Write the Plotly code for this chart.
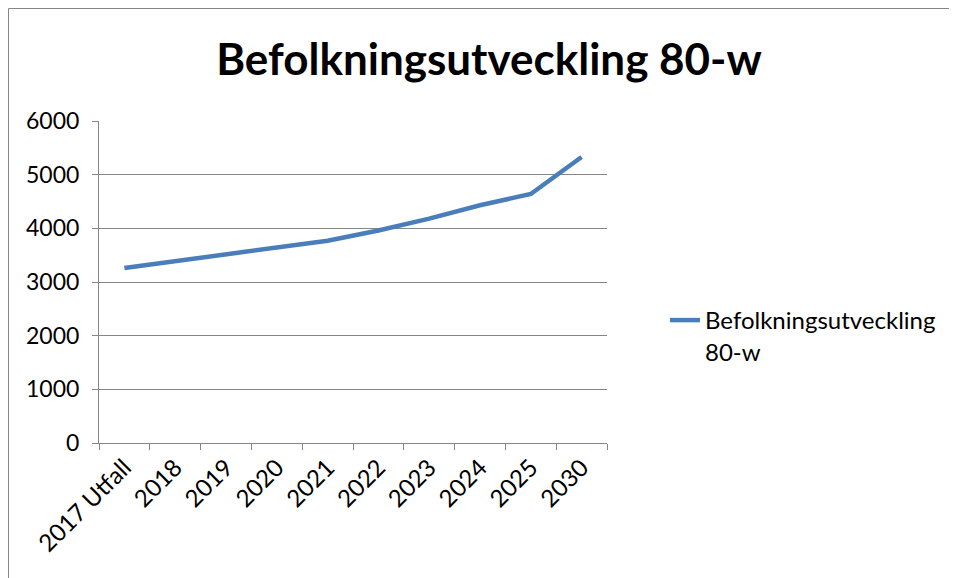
import plotly.graph_objects as go

categories = ["2017 Utfall", "2018", "2019", "2020", "2021", "2022", "2023", "2024", "2025", "2030"]
values = [3260, 3390, 3520, 3640, 3770, 3960, 4180, 4430, 4640, 5330]
series_name = "Befolkningsutveckling 80-w"
legend_label = "Befolkningsutveckling<br>80-w"
y_ticks = [0, 1000, 2000, 3000, 4000, 5000, 6000]

# page body has an 8px margin; work in reference-pixel coordinates
OFF = 8
W, H = 957 - OFF, 578 - OFF
PL, PR, PT, PB = 99, 607, 121, 443  # plot area in reference pixels
L, T = PL - OFF, PT - OFF
R = W - (PR - OFF)
B = H - (PB - OFF)
pw = PR - PL
ph = PB - PT

def px_x(px):
    return (px - PL) / pw

def px_y(py):
    return (PB - py) / ph

FONT = "Lato"
GRAY = "#868686"

fig = go.Figure()
fig.add_trace(go.Scatter(
    x=categories, y=values, mode="lines", name=legend_label,
    line=dict(color="#4A7EBB", width=4.5),
))

fig.update_layout(
    width=W, height=H,
    margin=dict(l=L, r=R, t=T, b=B, autoexpand=False),
    paper_bgcolor="white", plot_bgcolor="white",
    font=dict(family=FONT, size=24, color="black"),
    title=dict(text="<b>" + series_name + "</b>", x=(489 - OFF) / W, xanchor="center",
               y=1 - (60 - OFF) / H, yanchor="middle", yref="container",
               font=dict(family=FONT, size=44, color="black")),
    showlegend=True,
    legend=dict(x=px_x(665), xanchor="left", y=px_y(298), yanchor="top",
                valign="top", font=dict(family=FONT, size=24, color="black"),
                bgcolor="rgba(0,0,0,0)"),
    xaxis=dict(type="category", range=[-0.5, len(categories) - 0.5],
               showline=True, linecolor=GRAY, linewidth=1,
               ticks="outside", ticklen=6, tickcolor=GRAY, tickson="boundaries",
               tickangle=-45, showgrid=False, zeroline=False,
               tickfont=dict(family=FONT, size=24, color="black")),
    yaxis=dict(range=[0, 6000], tickvals=y_ticks, showline=True, linecolor=GRAY,
               linewidth=1, ticks="outside", ticklen=6, tickcolor=GRAY,
               showgrid=True, gridcolor=GRAY, gridwidth=1, zeroline=False,
               ticklabelstandoff=8,
               tickfont=dict(family=FONT, size=23, color="black")),
    shapes=[dict(type="rect", xref="paper", yref="paper",
                 x0=px_x(8.5), x1=px_x(980), y0=px_y(600), y1=px_y(8.5),
                 line=dict(color=GRAY, width=1), layer="below")],
)

fig.write_html("out.html")
